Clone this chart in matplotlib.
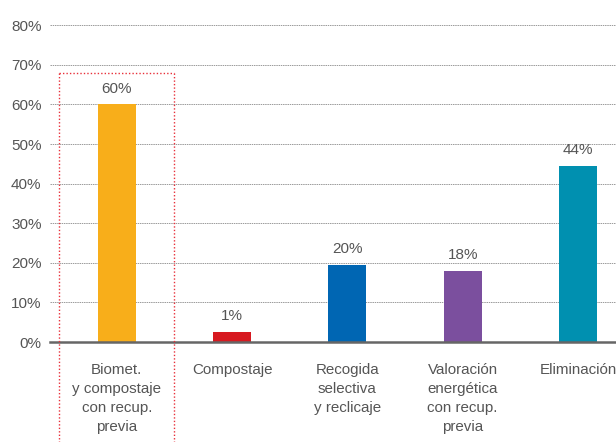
import matplotlib.pyplot as plt

plt.rcParams["font.family"] = ["Liberation Sans", "DejaVu Sans"]

categories = ["Biomet.\ny compostaje\ncon recup.\nprevia", "Compostaje",
              "Recogida\nselectiva\ny reclicaje", "Valoración\nenergética\ncon recup.\nprevia",
              "Eliminación"]
values = [60, 2.5, 19.5, 18, 44.5]
labels = ["60%", "1%", "20%", "18%", "44%"]
colors = ["#F8AE1A", "#D71920", "#0066B3", "#7B4F9E", "#0090B0"]
yticks = [0, 10, 20, 30, 40, 50, 60, 70, 80]

fig = plt.figure(figsize=(6.16, 4.42), dpi=100)
ax = fig.add_axes([0.081, 0.226, 0.919, 0.717])

x = range(len(values))
ax.bar(x, values, width=0.33, color=colors, zorder=3)
for i, (v, lab) in enumerate(zip(values, labels)):
    ax.text(i, v + 2.2, lab, ha="center", va="bottom", fontsize=11, color="#555555")

ax.set_xlim(-0.58, 4.33)
ax.set_ylim(0, 80)
ax.set_yticks(yticks)
ax.set_yticklabels([f"{t}%" for t in yticks], fontsize=11, color="#555555")
ax.set_xticks(list(x))
ax.set_xticklabels(categories, fontsize=10.9, color="#555555", linespacing=1.45)
ax.tick_params(axis="both", length=0, pad=6)
ax.tick_params(axis="x", pad=15)
ax.yaxis.grid(True, linestyle=(0, (1.5, 0.8)), color="#9a9a9a", linewidth=0.7, zorder=0)
for s in ["top", "right", "left"]:
    ax.spines[s].set_visible(False)
ax.spines["bottom"].set_color("#666666")
ax.spines["bottom"].set_linewidth(1.8)
ax.spines["bottom"].set_zorder(4)

# highlight box around first category
box = dict(color="#E8303A", linestyle=(0, (1, 1.5)), linewidth=1.0, clip_on=False, zorder=5)
ax.plot([-0.5, -0.5], [68, -25.5], **box)
ax.plot([0.5, 0.5], [68, -25.5], **box)
ax.plot([-0.5, 0.5], [68, 68], **box)

fig.savefig("out.png", dpi=100)
